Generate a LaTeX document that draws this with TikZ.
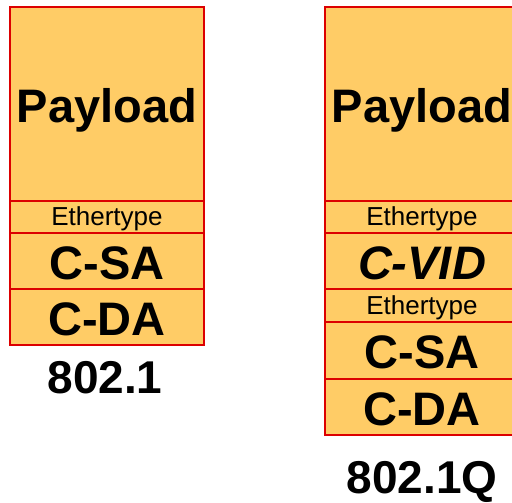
\documentclass[tikz,border=0pt]{standalone}
\usepackage{fontspec}
\setmainfont{Liberation Sans}
\definecolor{fieldfill}{RGB}{255,204,102}
\definecolor{fieldline}{RGB}{220,0,0}
\begin{document}
\begin{tikzpicture}[x=1pt,y=-1pt,
  field/.style={draw=fieldline,fill=fieldfill,line width=1.6pt,inner sep=0pt,outer sep=0pt},
  big/.style={font=\fontsize{47}{47}\selectfont\bfseries},
  small/.style={font=\fontsize{26}{26}\selectfont},
  caption/.style={font=\fontsize{46}{46}\selectfont\bfseries,inner sep=0pt}]
\clip (0,0) rectangle (512,503);
\fill[white] (0,0) rectangle (512,503);
% left stack 802.1
\draw[field] (10,7) rectangle (204,201);
\node[big] (lpay) at (107,110) {Payload};
\draw[field] (10,201) rectangle (204,233);
\node[small] (leth) at (107,219) {Ethertype};
\draw[field] (10,233) rectangle (204,289);
\node[big] (lsa) at (107,263) {C-SA};
\draw[field] (10,289) rectangle (204,345);
\node[big] (lda) at (107,319) {C-DA};
\node[caption] (lcap) at (105,378) {802.1};
% right stack 802.1Q
\draw[field] (325,7) rectangle (519,201);
\node[big] (rpay) at (422,110) {Payload};
\draw[field] (325,201) rectangle (519,233);
\node[small] (reth1) at (422,219) {Ethertype};
\draw[field] (325,233) rectangle (519,289);
\node[big] (rvid) at (422,263) {\itshape C-VID};
\draw[field] (325,289) rectangle (519,322);
\node[small] (reth2) at (422,307.5) {Ethertype};
\draw[field] (325,322) rectangle (519,379);
\node[big] (rsa) at (422,352.5) {C-SA};
\draw[field] (325,379) rectangle (519,435);
\node[big] (rda) at (422,409) {C-DA};
\node[caption] (rcap) at (422,482) {802.1Q};
\end{tikzpicture}
\end{document}
